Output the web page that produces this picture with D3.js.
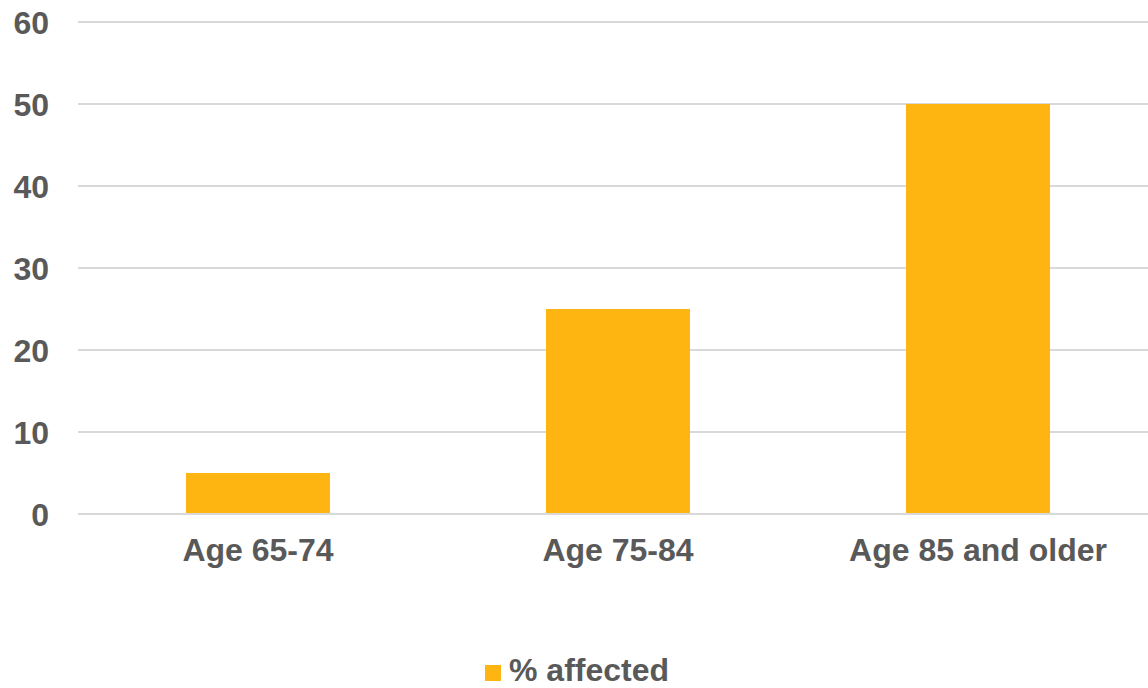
<!DOCTYPE html>
<html>
<head>
<meta charset="utf-8">
<script src="https://cdn.jsdelivr.net/npm/d3@7/dist/d3.min.js"></script>
<style>
  html, body { margin: 0; padding: 0; background: #ffffff; }
  svg { display: block; }
  text { font-family: "Liberation Sans", Arial, sans-serif; font-weight: bold; fill: #595959; }
</style>
</head>
<body>
<svg id="chart" width="1148" height="688"></svg>
<script>
// Share of people affected, by age group
const categories = ["Age 65-74", "Age 75-84", "Age 85 and older"];
const values = [5, 25, 50];
const yTicks = [0, 10, 20, 30, 40, 50, 60];
const seriesName = "% affected";

const barColor = "#FFB511";
const gridColor = "#D9D9D9";

const svg = d3.select("#chart");
const plot = { left: 78, right: 1158, top: 22, bottom: 514 };

const x = d3.scaleBand()
  .domain(categories)
  .range([plot.left, plot.right])
  .paddingInner(0.6)
  .paddingOuter(0.3);

const y = d3.scaleLinear()
  .domain([0, 60])
  .range([plot.bottom, plot.top]);

// horizontal gridlines
svg.append("g")
  .selectAll("line")
  .data(yTicks)
  .join("line")
  .attr("x1", plot.left)
  .attr("x2", plot.right)
  .attr("y1", d => y(d))
  .attr("y2", d => y(d))
  .attr("stroke", gridColor)
  .attr("stroke-width", 2);

// y-axis labels
svg.append("g")
  .selectAll("text")
  .data(yTicks)
  .join("text")
  .attr("x", 49)
  .attr("y", d => y(d))
  .attr("dy", "0.36em")
  .attr("text-anchor", "end")
  .style("font-size", "32px")
  .text(d => d);

// bars
svg.append("g")
  .selectAll("rect")
  .data(categories.map((c, i) => ({ c, v: values[i] })))
  .join("rect")
  .attr("x", d => x(d.c))
  .attr("width", x.bandwidth())
  .attr("y", d => y(d.v))
  .attr("height", d => y(0) - y(d.v) - 1)
  .attr("fill", barColor);

// baseline drawn over bar bottoms
svg.append("line")
  .attr("x1", plot.left)
  .attr("x2", plot.right)
  .attr("y1", y(0))
  .attr("y2", y(0))
  .attr("stroke", gridColor)
  .attr("stroke-width", 2);

// category labels
svg.append("g")
  .selectAll("text")
  .data(categories)
  .join("text")
  .attr("x", d => x(d) + x.bandwidth() / 2)
  .attr("y", 561)
  .attr("text-anchor", "middle")
  .style("font-size", "32px")
  .text(d => d);

// legend
const legend = svg.append("g");
legend.append("rect")
  .attr("x", 485)
  .attr("y", 665)
  .attr("width", 16)
  .attr("height", 16)
  .attr("fill", barColor);
legend.append("text")
  .attr("x", 509)
  .attr("y", 681)
  .style("font-size", "32px")
  .text(seriesName);
</script>
</body>
</html>
